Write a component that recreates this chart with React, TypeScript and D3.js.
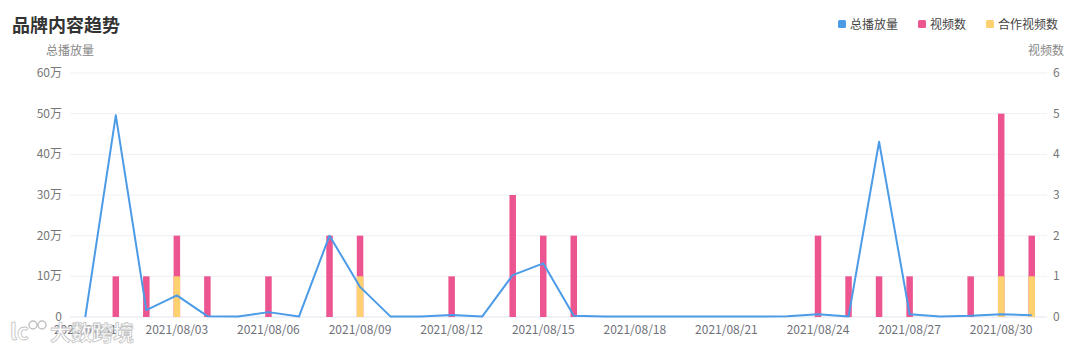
import React from "react";
import * as d3 from "d3";

const dates = [
  "2021/07/31","2021/08/01","2021/08/02","2021/08/03","2021/08/04","2021/08/05","2021/08/06","2021/08/07",
  "2021/08/08","2021/08/09","2021/08/10","2021/08/11","2021/08/12","2021/08/13","2021/08/14","2021/08/15",
  "2021/08/16","2021/08/17","2021/08/18","2021/08/19","2021/08/20","2021/08/21","2021/08/22","2021/08/23",
  "2021/08/24","2021/08/25","2021/08/26","2021/08/27","2021/08/28","2021/08/29","2021/08/30","2021/08/31",
];
// 总播放量 (in 万)
const plays = [0, 49.6, 1.7, 5.3, 0.2, 0.1, 1.2, 0.1, 20, 7.4, 0.1, 0.1, 0.5, 0.1, 10.3, 13.2,
  0.3, 0.1, 0.1, 0.1, 0.1, 0.1, 0.1, 0.2, 0.7, 0.1, 43.1, 0.7, 0.1, 0.3, 0.7, 0.4];
// 视频数 (total)
const videos = [0, 1, 1, 2, 1, 0, 1, 0, 2, 2, 0, 0, 1, 0, 3, 2,
  2, 0, 0, 0, 0, 0, 0, 0, 2, 1, 1, 1, 0, 1, 5, 2];
// 合作视频数
const coopVideos = [0, 0, 0, 1, 0, 0, 0, 0, 0, 1, 0, 0, 0, 0, 0, 0,
  0, 0, 0, 0, 0, 0, 0, 0, 0, 0, 0, 0, 0, 0, 1, 1];
const leftTicks = [0, 10, 20, 30, 40, 50, 60];
const rightTicks = [0, 1, 2, 3, 4, 5, 6];
const legendItems = ["总播放量", "视频数", "合作视频数"];

const W = 1080, H = 351;
const plot = { left: 70, right: 1047, top: 73, bottom: 317 };
const colors = { line: "#4c9be6", pink: "#ec5590", yellow: "#fdd16f" };
const font = "'Noto Sans CJK SC', 'Noto Sans', sans-serif";

export default function App() {
  const x = d3.scaleBand<string>().domain(dates).range([plot.left, plot.right]).padding(0);
  const yL = d3.scaleLinear().domain([0, 60]).range([plot.bottom, plot.top]);
  const yR = d3.scaleLinear().domain([0, 6]).range([plot.bottom, plot.top]);
  const cx = (d: string) => (x(d) as number) + x.bandwidth() / 2;
  const line = d3.line<number>().x((_, i) => cx(dates[i])).y((v) => yL(v));
  const barW = 6.5;
  const legendColors = [colors.line, colors.pink, colors.yellow];
  const legendX = [838, 918, 986];

  return (
    <svg width={W} height={H} style={{ position: "absolute", left: 0, top: 0, background: "#fff" }} fontFamily={font}>
      <text x={12} y={32} fontSize={18} fontWeight="bold" fill="#333">品牌内容趋势</text>
      {legendItems.map((t, i) => (
        <g key={t}>
          <rect x={legendX[i]} y={20} width={8} height={8} rx={1.5} fill={legendColors[i]} />
          <text x={legendX[i] + 12} y={28.5} fontSize={12} fill="#444">{t}</text>
        </g>
      ))}
      <text x={70} y={55} fontSize={12} fill="#888" textAnchor="middle">总播放量</text>
      <text x={1046} y={55} fontSize={12} fill="#888" textAnchor="middle">视频数</text>
      {leftTicks.map((t) => (
        <g key={t}>
          <line x1={plot.left} x2={plot.right} y1={yL(t)} y2={yL(t)} stroke={t === 0 ? "#dfe6f0" : "#edf0f5"} strokeWidth={1} />
          <text x={62} y={yL(t) + 4} fontSize={12} fill="#777" textAnchor="end">{t === 0 ? "0" : `${t}万`}</text>
        </g>
      ))}
      {rightTicks.map((t) => (
        <text key={t} x={1053} y={yR(t) + 4} fontSize={12} fill="#777">{t}</text>
      ))}
      {dates.map((d, i) => (i % 3 === 0 ? (
        <text key={d} x={cx(d)} y={334} fontSize={12} fill="#6e7079" textAnchor="middle">{d}</text>
      ) : null))}
      {dates.map((d, i) => (
        <g key={d}>
          {videos[i] > 0 && (
            <rect x={cx(d) - barW / 2} y={yR(videos[i])} width={barW} height={yR(0) - yR(videos[i])} fill={colors.pink} />
          )}
          {coopVideos[i] > 0 && (
            <rect x={cx(d) - barW / 2} y={yR(coopVideos[i])} width={barW} height={yR(0) - yR(coopVideos[i])} fill={colors.yellow} />
          )}
        </g>
      ))}
      <path d={line(plays) || ""} fill="none" stroke={colors.line} strokeWidth={2} strokeLinejoin="round" />
      <g opacity={0.92}>
        <text x={50} y={340} fontSize={21} fontWeight="bold" fill="#fff" stroke="#bdbdbd" strokeWidth={0.8}>大数跨境</text>
        <text x={10} y={340} fontSize={22} fontWeight="bold" fill="#fff" stroke="#bdbdbd" strokeWidth={0.8}>lc</text>
        <circle cx={33} cy={325} r={4} fill="#fff" stroke="#bdbdbd" strokeWidth={1.5} />
        <circle cx={42} cy={325} r={4} fill="#fff" stroke="#bdbdbd" strokeWidth={1.5} />
      </g>
    </svg>
  );
}
